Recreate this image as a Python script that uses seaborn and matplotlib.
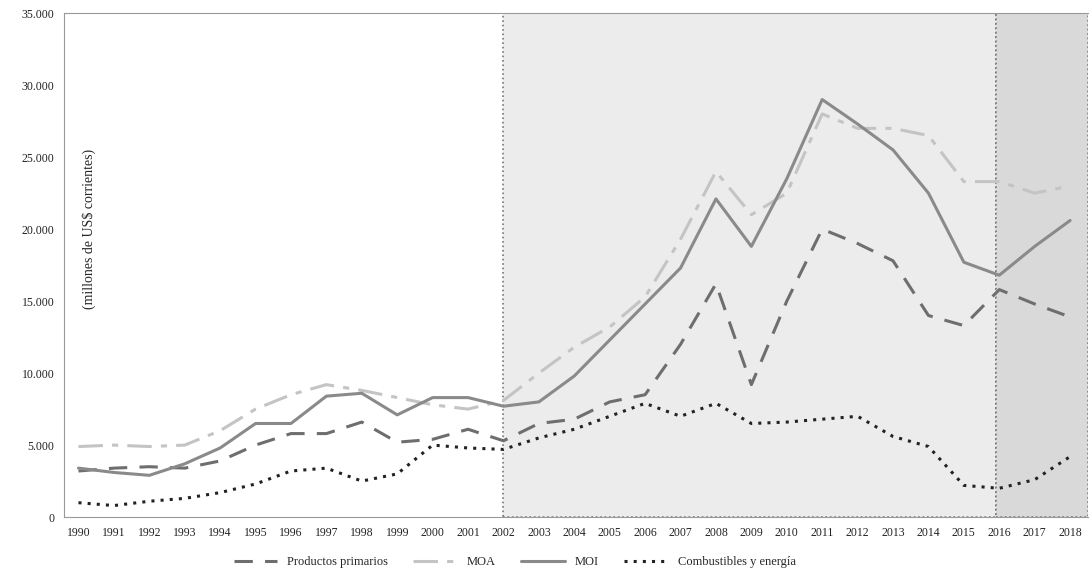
import numpy as np
import pandas as pd
import matplotlib
matplotlib.use('Agg')
import matplotlib.pyplot as plt
import seaborn as sns
from matplotlib.ticker import FuncFormatter

years = list(range(1990, 2019))
primarios = [3200, 3400, 3500, 3400, 3900, 5000, 5800, 5800, 6600, 5200, 5400, 6100, 5300, 6500, 6800,
             8000, 8500, 12000, 16200, 9200, 15000, 20000, 19000, 17800, 14000, 13300, 15800, 14800, 13900]
moa = [4900, 5000, 4900, 5000, 6000, 7500, 8500, 9200, 8800, 8300, 7800, 7500, 8100, 10000, 11800,
       13200, 15300, 19300, 24000, 21000, 22500, 28000, 27000, 27000, 26500, 23300, 23300, 22500, 23000]
moi = [3400, 3100, 2900, 3700, 4800, 6500, 6500, 8400, 8600, 7100, 8300, 8300, 7700, 8000, 9800,
       12300, 14800, 17300, 22100, 18800, 23500, 29000, 27300, 25500, 22500, 17700, 16800, 18800, 20600]
combustibles = [1000, 800, 1100, 1300, 1700, 2300, 3200, 3400, 2500, 3000, 5000, 4800, 4700, 5500, 6100,
                7000, 7900, 7000, 7900, 6500, 6600, 6800, 7000, 5600, 4900, 2200, 2000, 2600, 4200]

sns.set_style('white')
plt.rcParams['font.family'] = ['Liberation Serif', 'DejaVu Serif']

fig = plt.figure(figsize=(10.9, 5.72), dpi=100)
ax = fig.add_axes([0.059, 0.096, 0.939, 0.881])

ax.axvspan(2002, 2015.9, ymin=0, ymax=1.0, facecolor='#ececec', edgecolor='#777777', ls=':', lw=1.2, zorder=0)
ax.axvspan(2015.9, 2018.5, ymin=0, ymax=1.0, facecolor='#d9d9d9', edgecolor='#777777', ls=':', lw=1.2, zorder=0)

sns.lineplot(x=years, y=primarios, ax=ax, color='#6e6e6e', lw=2.2, label='Productos primarios')
ax.lines[-1].set_dashes([6, 4])
sns.lineplot(x=years, y=moa, ax=ax, color='#c4c4c4', lw=2.2, label='MOA')
ax.lines[-1].set_dashes([8, 3, 2, 3])
sns.lineplot(x=years, y=moi, ax=ax, color='#8a8a8a', lw=2.2, label='MOI')
sns.lineplot(x=years, y=combustibles, ax=ax, color='#222222', lw=2.2, label='Combustibles y energía')
ax.lines[-1].set_dashes([1, 2])

ax.set_xlim(1989.6, 2018.5)
ax.set_ylim(0, 35000)
ax.set_xticks(years)
ax.set_yticks(range(0, 35001, 5000))
ax.yaxis.set_major_formatter(FuncFormatter(lambda v, p: f'{int(v):,}'.replace(',', '.')))
ax.tick_params(labelsize=8.5, colors='#222222')
ax.spines['right'].set_visible(False)
for s in ['left', 'bottom', 'top']:
    ax.spines[s].set_color('#999999')

ax.text(1990.3, 20000, '(millones de US$ corrientes)', rotation=90, fontsize=10, va='center', ha='center')

ax.legend(loc='center', bbox_to_anchor=(0.44, -0.09), ncol=4, frameon=False, fontsize=9,
          handlelength=3.5, columnspacing=2)

fig.savefig('out.png', dpi=100)
